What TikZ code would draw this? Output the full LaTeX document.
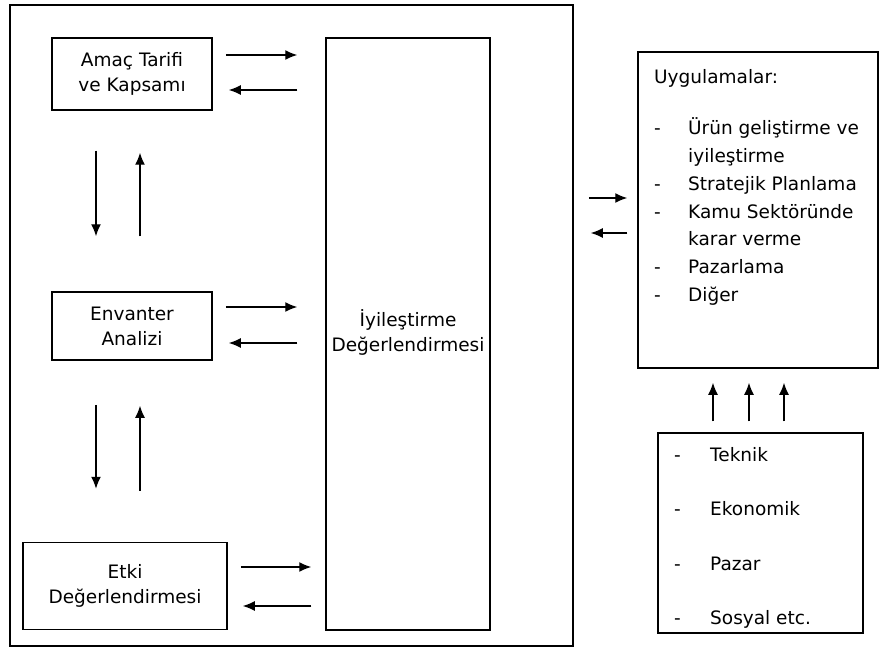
\documentclass[tikz,border=0pt]{standalone}
\usepackage{fontspec}
\setmainfont{DejaVu Sans}
\usetikzlibrary{arrows.meta,calc,positioning}

\begin{document}
\begin{tikzpicture}[x=1pt,y=-1pt,
  box/.style={draw,line width=1.5pt,inner sep=0pt,align=center,font=\fontsize{18.5}{25}\selectfont},
  arr/.style={-{Latex[length=12pt,width=10pt]},line width=1.4pt},
  lst/.style={inner sep=0pt,anchor=base west}]
  \useasboundingbox (0,0) rectangle (884,650);
  % outer frame
  \draw[line width=1.5pt] (10,5) rectangle (573,646);
  % left column
  \node[box,minimum width=160pt,minimum height=72pt] (amac) at (132,74) {Amaç Tarifi\\ve Kapsamı};
  \node[box,minimum width=160pt,minimum height=68pt] (env) at (132,326) {Envanter\\Analizi};
  \node[box,minimum width=204pt,minimum height=87pt] (etki) at (125,586) {Etki\\Değerlendirmesi};
  \node[box,minimum width=164pt,minimum height=592pt] (iyi) at (408,334) {\\[-12pt]İyileştirme\\Değerlendirmesi};
  % right column
  \node[box,minimum width=240pt,minimum height=316pt] (uyg) at (758,210) {};
  \node[box,minimum width=205pt,minimum height=200pt] (fak) at (760.5,533) {};
  \node[lst] (uygtxt) at (654,84) {\fontsize{18.5}{27.8}\selectfont
    \begin{tabular}[t]{@{}p{34pt}@{}l@{}}
      \multicolumn{2}{@{}l}{Uygulamalar:}\\[23pt]
      - & Ürün geliştirme ve\\
        & iyileştirme\\
      - & Stratejik Planlama\\
      - & Kamu Sektöründe\\
        & karar verme\\
      - & Pazarlama\\
      - & Diğer
    \end{tabular}};
  \node[lst] (faktxt) at (674,461) {\fontsize{18.5}{54.6}\selectfont
    \begin{tabular}[t]{@{}p{36pt}@{}l@{}}
      - & Teknik\\
      - & Ekonomik\\
      - & Pazar\\
      - & Sosyal etc.
    \end{tabular}};
  % horizontal arrows to the middle box
  \draw[arr,shorten <=13pt,shorten >=28pt] ($(amac.east)+(0,-19)$) -- ($(amac.east -| iyi.west)+(0,-19)$);
  \draw[arr,shorten <=28pt,shorten >=16pt] ($(amac.east -| iyi.west)+(0,16)$) -- ($(amac.east)+(0,16)$);
  \draw[arr,shorten <=13pt,shorten >=28pt] ($(env.east)+(0,-19)$) -- ($(env.east -| iyi.west)+(0,-19)$);
  \draw[arr,shorten <=28pt,shorten >=16pt] ($(env.east -| iyi.west)+(0,17)$) -- ($(env.east)+(0,17)$);
  \draw[arr,shorten <=13pt,shorten >=14pt] ($(etki.east)+(0,-19)$) -- ($(etki.east -| iyi.west)+(0,-19)$);
  \draw[arr,shorten <=14pt,shorten >=15pt] ($(etki.east -| iyi.west)+(0,20)$) -- ($(etki.east)+(0,20)$);
  % vertical arrows between the boxes
  \draw[arr,shorten <=40pt,shorten >=55pt] ($(amac.south)+(-36,0)$) -- ($(env.north)+(-36,0)$);
  \draw[arr,shorten <=55pt,shorten >=42pt] ($(env.north)+(8,0)$) -- ($(amac.south)+(8,0)$);
  \draw[arr,shorten <=44pt,shorten >=53pt] ($(env.south)+(-36,0)$) -- ($(env.south |- etki.north)+(-36,0)$);
  \draw[arr,shorten <=51pt,shorten >=45pt] ($(env.south |- etki.north)+(8,0)$) -- ($(env.south)+(8,0)$);
  % to the applications
  \draw[arr,shorten <=98pt,shorten >=10pt] ($(uyg.west -| iyi.east)+(0,-12)$) -- ($(uyg.west)+(0,-12)$);
  \draw[arr,shorten <=10pt,shorten >=100pt] ($(uyg.west)+(0,23)$) -- ($(uyg.west -| iyi.east)+(0,23)$);
  \foreach \dx in {-47.5,-11.5,23.5}{
    \draw[arr,shorten <=11pt,shorten >=14pt] ($(fak.north)+(\dx,0)$) -- ($(fak.north |- uyg.south)+(\dx,0)$);
  }
\end{tikzpicture}
\end{document}
